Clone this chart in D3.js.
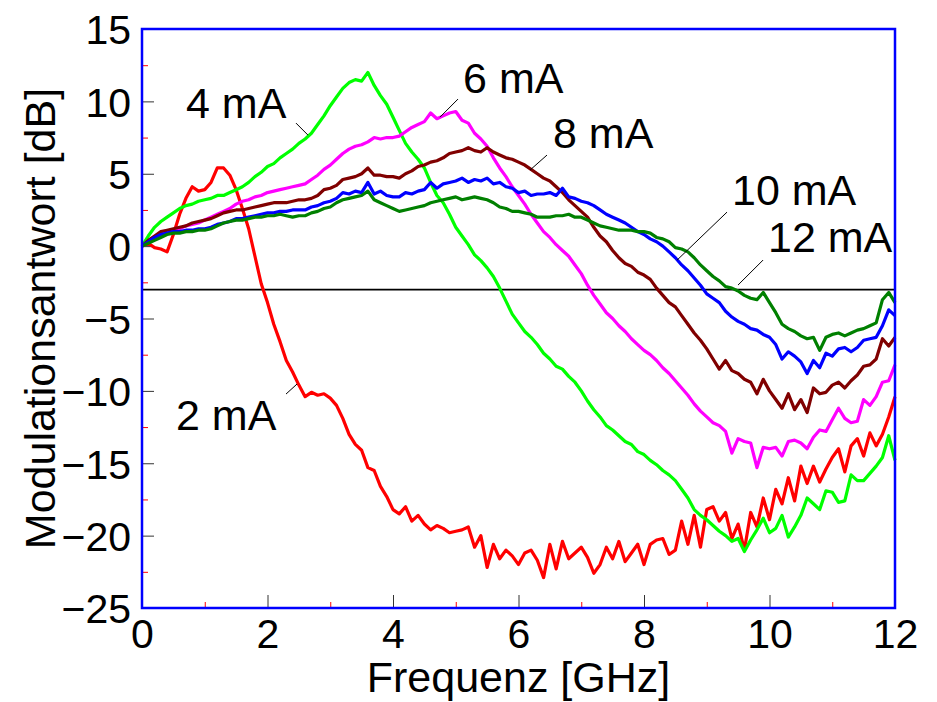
<!DOCTYPE html>
<html>
<head>
<meta charset="utf-8">
<script src="https://cdn.jsdelivr.net/npm/d3@7"></script>
<style>
  body { margin: 0; background: #fff; }
  text { font-family: "Liberation Sans", Arial, sans-serif; fill: #000; }
</style>
</head>
<body>
<svg class="chart"></svg>
<script>
var width = 937, height = 702;

// frequency grid in GHz
var freq = [0,0.1,0.2,0.3,0.4,0.5,0.6,0.7,0.8,0.9,1,1.1,1.2,1.3,1.4,1.5,1.6,1.7,1.8,1.9,
  2,2.1,2.2,2.3,2.4,2.5,2.6,2.7,2.8,2.9,3,3.1,3.2,3.3,3.4,3.5,3.6,3.7,3.8,3.9,
  4,4.1,4.2,4.3,4.4,4.5,4.6,4.7,4.8,4.9,5,5.1,5.2,5.3,5.4,5.5,5.6,5.7,5.8,5.9,
  6,6.1,6.2,6.3,6.4,6.5,6.6,6.7,6.8,6.9,7,7.1,7.2,7.3,7.4,7.5,7.6,7.7,7.8,7.9,
  8,8.1,8.2,8.3,8.4,8.5,8.6,8.7,8.8,8.9,9,9.1,9.2,9.3,9.4,9.5,9.6,9.7,9.8,9.9,
  10,10.1,10.2,10.3,10.4,10.5,10.6,10.7,10.8,10.9,11,11.1,11.2,11.3,11.4,11.5,11.6,11.7,11.8,11.9,12];

// Modulationsantwort in dB
var resp2mA = [0,0.2,-0.1,-0.2,-0.4,0.8,2.2,3.3,4.1,3.8,3.9,4.4,5.4,5.4,4.9,3.9,2.6,1.2,-0.7,-2.6,
  -3.9,-5.4,-6.6,-7.9,-8.7,-9.6,-10.4,-10.1,-10.3,-10.2,-10.5,-11.0,-11.9,-13.0,-13.7,-14.1,-15.3,-15.5,-16.6,-17.3,
  -18.2,-18.5,-18.0,-19.0,-18.6,-19.2,-19.6,-19.3,-19.5,-19.8,-19.7,-19.6,-19.4,-20.8,-20.0,-22.2,-20.6,-21.6,-21.0,-21.4,
  -22.0,-21.2,-21.0,-21.7,-22.9,-20.6,-22.3,-20.4,-21.6,-21.2,-20.8,-21.5,-22.6,-22.0,-20.8,-21.6,-20.4,-21.8,-21.2,-20.6,
  -22.0,-20.6,-20.3,-20.2,-21.3,-21.0,-19.0,-20.6,-18.6,-20.8,-18.2,-18.0,-19.0,-18.4,-20.2,-19.2,-21.0,-18.4,-19.4,-17.4,
  -18.9,-16.8,-17.8,-16.0,-17.6,-15.2,-16.4,-15.2,-16.3,-15.4,-14.6,-14.0,-15.6,-13.8,-13.3,-14.5,-12.9,-13.8,-13.0,-11.8,-10.4];

var resp4mA = [0,0.7,1.3,1.7,2.0,2.3,2.6,2.8,2.9,3.1,3.2,3.3,3.5,3.5,3.7,3.9,4.1,4.4,4.8,5.1,
  5.5,5.7,6.1,6.4,6.7,7.1,7.4,7.8,8.4,9.0,9.7,10.3,10.9,11.3,11.5,11.4,12.0,11.1,10.4,9.8,
  8.9,8.0,7.1,6.5,6.0,5.4,4.4,3.5,3.0,2.2,1.3,0.7,0.1,-0.6,-1.0,-1.5,-2.1,-2.9,-3.8,-4.7,
  -5.3,-5.9,-6.3,-6.8,-7.4,-7.8,-8.3,-8.5,-9.0,-9.4,-10.0,-10.7,-11.3,-11.8,-12.4,-12.7,-13.1,-13.5,-13.7,-14.2,
  -14.4,-14.8,-15.1,-15.5,-15.8,-16.2,-16.8,-17.4,-18.2,-18.6,-18.9,-19.3,-19.7,-20.0,-20.4,-20.2,-21.1,-20.3,-19.6,-18.8,
  -19.8,-19.5,-18.6,-20.1,-19.4,-18.6,-17.4,-17.8,-18.2,-16.9,-17.0,-17.7,-17.6,-15.8,-16.2,-16.2,-15.7,-15.2,-14.6,-13.1,-14.8];

var resp6mA = [0,0.3,0.6,0.8,0.9,1.1,1.2,1.4,1.5,1.6,1.8,2.0,2.2,2.4,2.6,2.9,3.1,3.2,3.4,3.5,
  3.7,3.8,3.9,4.0,4.1,4.2,4.3,4.6,4.9,5.3,5.6,6.0,6.4,6.7,6.9,7.0,7.2,7.5,7.4,7.5,
  7.5,7.6,7.9,8.2,8.4,8.6,9.2,8.8,9.0,9.2,9.3,8.7,8.5,7.8,7.4,6.9,6.1,5.4,4.8,4.1,
  3.5,2.9,2.2,1.6,1.0,0.6,0.1,-0.3,-0.7,-1.3,-1.9,-2.7,-3.4,-4.0,-4.6,-5.0,-5.5,-5.9,-6.4,-6.8,
  -7.2,-7.5,-7.9,-8.4,-8.8,-9.3,-9.8,-10.3,-10.9,-11.4,-11.8,-12.2,-12.4,-12.8,-14.3,-13.3,-13.5,-13.6,-15.3,-13.9,
  -14.0,-13.9,-14.5,-13.5,-13.4,-13.6,-14.0,-13.2,-12.7,-12.8,-12.0,-11.2,-11.9,-12.2,-12.1,-10.6,-11.0,-10.4,-9.4,-9.3,-8.2];

var resp8mA = [0,0.4,0.7,1.0,1.1,1.2,1.3,1.4,1.6,1.7,1.8,1.9,2.1,2.3,2.4,2.5,2.5,2.6,2.7,2.8,
  2.9,3.0,3.0,3.0,3.1,3.2,3.2,3.3,3.5,3.9,4.0,4.2,4.6,4.7,4.8,5.0,5.4,4.9,4.9,4.8,
  4.8,4.7,5.0,5.2,5.5,5.6,5.8,5.9,6.1,6.4,6.5,6.6,6.8,6.6,6.5,6.8,6.5,6.3,6.1,6.0,
  5.8,5.6,5.3,5.0,4.7,4.5,4.1,3.7,3.2,2.8,2.4,2.0,1.3,0.7,0.3,-0.3,-0.8,-1.2,-1.4,-1.8,
  -2.0,-2.3,-2.9,-3.4,-3.9,-4.2,-4.8,-5.4,-6.0,-6.5,-7.1,-7.8,-8.5,-7.9,-8.6,-8.8,-9.2,-9.4,-10.2,-9.2,
  -10.0,-10.6,-11.2,-10.2,-11.3,-10.6,-11.5,-9.8,-10.2,-10.1,-9.6,-9.4,-9.8,-9.3,-8.9,-8.3,-8.2,-7.8,-6.4,-6.9,-6.3];

var resp10mA = [0,0.3,0.6,0.8,0.9,1.0,1.0,1.1,1.1,1.2,1.2,1.3,1.5,1.6,1.7,1.9,1.9,2.0,2.1,2.2,
  2.3,2.3,2.4,2.4,2.5,2.5,2.5,2.7,2.8,3.0,3.1,3.3,3.7,3.6,3.8,3.7,4.4,3.6,3.8,3.5,
  3.4,3.4,3.7,3.6,3.8,3.9,4.4,4.0,4.3,4.4,4.5,4.7,4.4,4.6,4.5,4.7,4.3,4.4,4.1,4.0,
  3.7,3.8,3.5,3.6,3.6,3.7,3.5,4.0,3.4,3.3,3.1,3.0,2.8,2.5,2.2,2.0,1.8,1.6,1.3,1.0,
  0.8,0.5,0.3,0.0,-0.4,-0.8,-1.3,-1.7,-2.2,-2.7,-3.3,-3.6,-3.9,-4.5,-4.9,-5.2,-5.4,-5.7,-5.8,-6.1,
  -6.3,-6.8,-7.8,-7.3,-7.6,-8.0,-8.8,-7.9,-8.4,-7.4,-7.6,-7.1,-7.0,-7.3,-7.0,-6.5,-6.4,-6.3,-5.5,-4.4,-4.8];

var resp12mA = [0,0.2,0.4,0.6,0.8,0.9,0.9,1.0,1.0,1.1,1.1,1.2,1.4,1.6,1.7,1.8,1.8,1.9,2.0,2.0,
  2.1,2.1,2.2,2.1,2.0,2.1,2.1,2.3,2.4,2.6,2.7,3.0,3.2,3.3,3.4,3.5,3.8,3.2,3.0,2.8,
  2.6,2.4,2.5,2.6,2.7,2.8,3.0,3.1,3.2,3.3,3.4,3.2,3.3,3.4,3.3,3.2,3.0,2.7,2.6,2.4,
  2.4,2.3,2.2,2.0,2.0,2.0,2.1,2.1,2.2,2.0,2.0,1.8,1.6,1.4,1.3,1.2,1.1,1.1,1.1,1.0,
  1.0,0.9,0.6,0.5,0.3,-0.1,-0.2,-0.4,-0.8,-1.3,-1.7,-2.1,-2.4,-2.8,-2.9,-3.1,-3.4,-3.6,-3.7,-3.2,
  -3.9,-4.6,-5.4,-5.7,-5.9,-6.2,-6.4,-6.3,-7.2,-6.3,-6.1,-6.0,-6.2,-6.0,-5.8,-5.7,-5.5,-5.3,-3.7,-3.2,-3.9];

var seriesNames = ["2 mA", "4 mA", "6 mA", "8 mA", "10 mA", "12 mA"];
var seriesValues = [resp2mA, resp4mA, resp6mA, resp8mA, resp10mA, resp12mA];
var seriesColors = ["#ff0000", "#00ff00", "#ff00ff", "#800000", "#0000ff", "#008000"];

// label text position and leader line (data coordinates)
var labelPos = [[0.542, -12.71], [0.701, 8.84], [5.116, 10.57], [6.55, 6.77], [9.402, 2.83], [9.976, -0.41]];
var leaderLines = [
  [[2.295, -10.22], [2.470, -9.53]],
  [[2.454, 8.50], [2.645, 7.67]],
  [[5.036, 10.16], [4.749, 8.91]],
  [[6.454, 6.29], [6.183, 5.25]],
  [[9.323, 2.35], [8.526, -0.97]],
  [[9.896, -0.97], [9.498, -2.69]]
];

var xTicks = [0, 2, 4, 6, 8, 10, 12];
var xMinor = [1, 3, 5, 7, 9, 11];
var yTicks = [15, 10, 5, 0, -5, -10, -15, -20, -25];
var yMinor = [12.5, 7.5, 2.5, -2.5, -7.5, -12.5, -17.5, -22.5];
var refLevel = -3;

var plotLeft = 142, plotRight = 895, plotTop = 29, plotBottom = 608;

var chart = d3.select(".chart")
    .attr("width", width)
    .attr("height", height)

var x_scale = d3.scaleLinear()
    .domain([0, 12])
    .range([plotLeft, plotRight]);

var y_scale = d3.scaleLinear()
    .domain([-25, 15])
    .range([plotBottom, plotTop]);

// minor ticks (red) and major ticks (dark), pointing inward
chart.append("g")
    .attr("transform", "translate(0," + plotBottom + ")")
    .call(d3.axisBottom(x_scale).tickValues(xMinor).tickSize(-6).tickFormat(""))
    .call(function(g) {
        g.select(".domain").remove();
        g.selectAll("line").attr("stroke", "#ff0000");
    });

chart.append("g")
    .attr("transform", "translate(" + plotLeft + ",0)")
    .call(d3.axisLeft(y_scale).tickValues(yMinor).tickSize(-6).tickFormat(""))
    .call(function(g) {
        g.select(".domain").remove();
        g.selectAll("line").attr("stroke", "#ff0000");
    });

chart.append("g")
    .attr("transform", "translate(0," + plotBottom + ")")
    .call(d3.axisBottom(x_scale).tickValues(xTicks).tickSizeInner(-13).tickSizeOuter(0).tickPadding(11))
    .call(function(g) {
        g.select(".domain").remove();
        g.selectAll("line").attr("stroke", "#333");
        g.selectAll("text")
            .attr("font-size", 41)
            .attr("font-family", "Liberation Sans, Arial, sans-serif")
            .attr("fill", "#000")
            .attr("dy", "0.71em");
    });

chart.append("g")
    .attr("transform", "translate(" + plotLeft + ",0)")
    .call(d3.axisLeft(y_scale).tickValues(yTicks).tickSizeInner(-12).tickSizeOuter(0).tickPadding(12))
    .call(function(g) {
        g.select(".domain").remove();
        g.selectAll("line").attr("stroke", "#333");
        g.selectAll("text")
            .attr("font-size", 41)
            .attr("font-family", "Liberation Sans, Arial, sans-serif")
            .attr("fill", "#000")
            .attr("x", -11)
            .attr("dy", "0.36em");
    });

// -3 dB reference line
chart.append("line")
    .attr("x1", x_scale(0))
    .attr("x2", x_scale(12))
    .attr("y1", y_scale(refLevel))
    .attr("y2", y_scale(refLevel))
    .attr("stroke", "#000")
    .attr("stroke-width", 1.8);

var line = d3.line()
    .x(function(d, i) { return x_scale(freq[i]); })
    .y(function(d) { return y_scale(d); });

chart.selectAll(".curve")
    .data(seriesValues)
    .enter().append("path")
    .attr("class", "curve")
    .attr("d", line)
    .attr("fill", "none")
    .attr("stroke", function(d, i) { return seriesColors[i]; })
    .attr("stroke-width", 3.2)
    .attr("stroke-linejoin", "round");

// frame
chart.append("rect")
    .attr("x", plotLeft)
    .attr("y", plotTop)
    .attr("width", plotRight - plotLeft)
    .attr("height", plotBottom - plotTop)
    .attr("fill", "none")
    .attr("stroke", "#0000ff")
    .attr("stroke-width", 2.5);

// curve labels with leader lines
chart.selectAll(".leader")
    .data(leaderLines)
    .enter().append("line")
    .attr("class", "leader")
    .attr("x1", function(d) { return x_scale(d[0][0]); })
    .attr("y1", function(d) { return y_scale(d[0][1]); })
    .attr("x2", function(d) { return x_scale(d[1][0]); })
    .attr("y2", function(d) { return y_scale(d[1][1]); })
    .attr("stroke", "#000")
    .attr("stroke-width", 1);

chart.selectAll(".label")
    .data(seriesNames)
    .enter().append("text")
    .attr("class", "label")
    .attr("x", function(d, i) { return x_scale(labelPos[i][0]); })
    .attr("y", function(d, i) { return y_scale(labelPos[i][1]); })
    .attr("font-size", 43)
    .text(function(d) { return d; });

// axis titles
chart.append("text")
    .attr("x", (plotLeft + plotRight) / 2)
    .attr("y", 692)
    .attr("text-anchor", "middle")
    .attr("font-size", 43)
    .text("Frequenz [GHz]");

chart.append("text")
    .attr("transform", "translate(55," + ((plotTop + plotBottom) / 2) + ") rotate(-90)")
    .attr("text-anchor", "middle")
    .attr("font-size", 43)
    .text("Modulationsantwort [dB]");
</script>
</body>
</html>
